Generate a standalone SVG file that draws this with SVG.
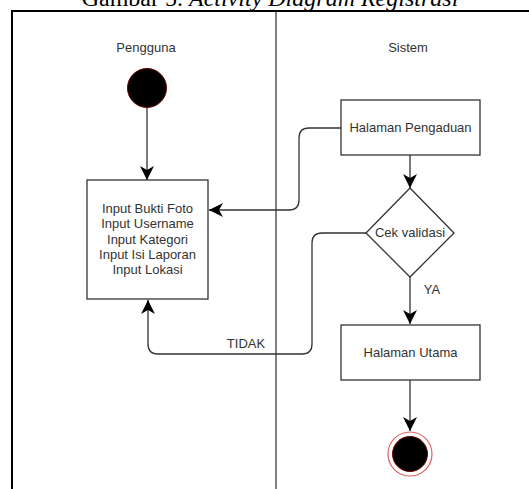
<svg xmlns="http://www.w3.org/2000/svg" width="529" height="489" viewBox="0 0 529 489">
<style>
.lbl{font-family:"Liberation Sans",Arial,sans-serif;font-size:13px;fill:#333;text-anchor:middle}
.box{fill:#fff;stroke:#333;stroke-width:1.3}
.conn{fill:none;stroke:#333;stroke-width:1.3}
.title{font-family:"Liberation Serif","Times New Roman",serif;font-size:24px;fill:#000;text-anchor:middle}
</style>
<defs>
<marker id="arr" viewBox="0 0 14 14" refX="14" refY="7" markerWidth="14" markerHeight="14" markerUnits="userSpaceOnUse" orient="auto">
<path d="M0,0 L14,7 L0,14 L4,7 Z" fill="#000"/>
</marker>
</defs>
<rect width="529" height="489" fill="#fff"/>
<text class="title" x="270" y="6">Gambar 5. <tspan font-style="italic">Activity Diagram Registrasi</tspan></text>
<g id="swimlanes">
<path d="M12,489 V11 H529" fill="none" stroke="#000" stroke-width="2"/>
<path d="M276,11 V489" fill="none" stroke="#000" stroke-width="1"/>
<text class="lbl" x="146" y="52">Pengguna</text>
<text class="lbl" x="408" y="52">Sistem</text>
</g>
<g id="connectors">
<path class="conn" d="M147,108 V180" marker-end="url(#arr)"/>
<path class="conn" d="M341,128 H309 Q299,128 299,138 V200 Q299,210 289,210 H209" marker-end="url(#arr)"/>
<path class="conn" d="M410,155 V188" marker-end="url(#arr)"/>
<path class="conn" d="M366,233 H322 Q312,233 312,243 V344 Q312,354 302,354 H158 Q148,354 148,344 V300" marker-end="url(#arr)"/>
<path class="conn" d="M410,277 V324" marker-end="url(#arr)"/>
<path class="conn" d="M410,380 V431" marker-end="url(#arr)"/>
<text class="lbl" x="246" y="348">TIDAK</text>
<text class="lbl" x="432" y="294">YA</text>
</g>
<g id="start">
<circle cx="147" cy="88" r="19.5" fill="#000" stroke="#6b0000" stroke-width="1"/>
</g>
<g id="input">
<rect class="box" x="87" y="180" width="121" height="119"/>
<text class="lbl" x="147.5" y="213">Input Bukti Foto</text>
<text class="lbl" x="147.5" y="228">Input Username</text>
<text class="lbl" x="147.5" y="244">Input Kategori</text>
<text class="lbl" x="147.5" y="259">Input Isi Laporan</text>
<text class="lbl" x="147.5" y="274">Input Lokasi</text>
</g>
<g id="pengaduan">
<rect class="box" x="341" y="100" width="139" height="55"/>
<text class="lbl" x="410.5" y="132">Halaman Pengaduan</text>
</g>
<g id="validasi">
<path class="box" d="M410,188 L454,233 L410,277 L366,233 Z"/>
<text class="lbl" x="410" y="237">Cek validasi</text>
</g>
<g id="utama">
<rect class="box" x="341" y="325" width="139" height="55"/>
<text class="lbl" x="410.5" y="357">Halaman Utama</text>
</g>
<g id="end">
<circle cx="410" cy="454" r="22" fill="#fff" stroke="#e06060" stroke-width="1.2"/>
<circle cx="410" cy="454" r="17.5" fill="#000" stroke="#6b0000" stroke-width="1"/>
</g>
</svg>
